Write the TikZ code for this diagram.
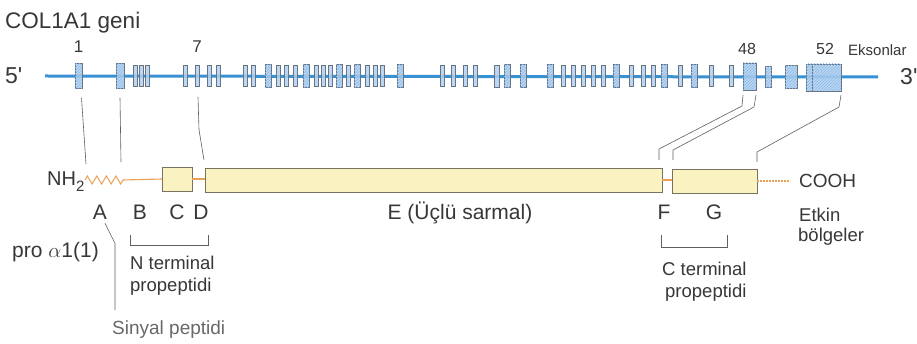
\documentclass[tikz,border=0pt]{standalone}
\usepackage{fontspec}
\setmainfont{Liberation Sans}
\usetikzlibrary{patterns,decorations.pathmorphing}
\definecolor{txt}{RGB}{55,55,55}
\definecolor{txtlight}{RGB}{105,105,105}
\definecolor{gline}{RGB}{55,145,210}
\definecolor{exfill}{RGB}{175,210,242}
\definecolor{exhatch}{RGB}{140,185,230}
\definecolor{exdraw}{RGB}{105,115,130}
\definecolor{boxfill}{RGB}{250,242,192}
\definecolor{boxdraw}{RGB}{120,115,95}
\definecolor{orng}{RGB}{232,160,85}
\definecolor{conn}{RGB}{95,95,95}
\newcommand{\fsz}[1]{\fontsize{#1}{#1}\selectfont}
\begin{document}
\begin{tikzpicture}[x=1pt,y=-1pt,
  lbl/.style={inner sep=0pt, anchor=base west, text=txt},
  clbl/.style={inner sep=0pt, anchor=base, text=txt},
  exon/.style={draw=exdraw, line width=0.6pt, fill=exfill, fill opacity=0.85, inner sep=0pt, outer sep=0pt, minimum height=21pt},
  hatch/.style={postaction={pattern=north east lines, pattern color=exhatch}},
  pbox/.style={draw=boxdraw, line width=0.8pt, fill=boxfill, inner sep=0pt, outer sep=0pt, anchor=north west},
  pline/.style={orng, line width=1.1pt},
  connline/.style={conn, line width=0.6pt},
  bracket/.style={conn, line width=0.6pt}]
\fill[white] (0,0) rectangle (917,344);
\useasboundingbox (0,0) rectangle (917,344);

% ---------- gene ----------
\node[lbl, font=\fsz{22.5}] (title) at (5,29) {COL1A1 geni};
\node[lbl, font=\fsz{23}] (five) at (5,84) {5\textquotesingle};
\node[lbl, font=\fsz{23}] (three) at (900,85) {3\textquotesingle};
\coordinate (gstart) at (45,76);
\coordinate (gend) at (878,77);
\draw[gline, line width=3pt] (gstart) -- (gend);

\foreach \x/\w/\h [count=\i] in {78.5/7/25, 120/8/25, 135/4/21, 141.5/4/21, 147.5/4/21,
  185/4/21, 197/4/21, 209/4/21, 218/4/21,
  245/4/21, 253/4/21, 268/6/23, 278/4/21, 286/4/21, 295/4/21, 306/6/23, 316/4/21,
  323/4/21, 330/4/21, 339/6/23, 348/4/21, 357/6/23, 367/4/21, 375/4/21, 382/4/21, 400/6/23,
  442/4/21, 453/4/21, 465/4/21, 475/4/21, 497/5/22, 507/6/23, 523/6/23, 550/6/23, 563/4/21, 573/4/21,
  583/4/21, 593/4/21, 603/4/21, 616/6/23, 631/4/21, 643/4/21, 653/4/21, 664/6/23, 680/4/21,
  694/6/23, 711/4/21, 731/4/21}
{
  \node[exon, minimum width=\w pt, minimum height=\h pt] (g\i) at (\x,76.3) {};
}
\foreach \n in {1,2,12,16,20,22,26,32,33,34,40,44,46}{
  \path[pattern=north east lines, pattern color=exhatch] (g\n.south west) rectangle (g\n.north east);
}
\node[exon, hatch, minimum width=13pt, minimum height=27pt] (ex48) at (749.5,76.5) {};
\node[exon, hatch, minimum width=6pt, minimum height=21pt] (ex49) at (768.5,77) {};
\node[exon, hatch, minimum width=12pt, minimum height=23pt] (ex50) at (791,77) {};
\node[exon, hatch, minimum width=6pt, minimum height=27pt] (ex51) at (809,77.5) {};
\node[exon, hatch, minimum width=29pt, minimum height=27pt] (ex52) at (826.5,77.5) {};

\node[clbl, font=\fsz{17}] (n1) at (78.5,53) {1};
\node[clbl, font=\fsz{17}] (n7) at (197,53) {7};
\node[clbl, font=\fsz{16}] (n48) at (747,55) {48};
\node[clbl, font=\fsz{16}] (n52) at (825,55) {52};
\node[lbl, font=\fsz{15}] (eks) at (848,56) {Eksonlar};

% ---------- protein ----------
\node[lbl, font=\fsz{20}] (nh2) at (47,186) {NH\raisebox{-6pt}{\fsz{15}2}};
\coordinate (z0) at (85,180);
\coordinate (z1) at (123,180);
\draw[pline, line width=1pt, decorate, decoration={zigzag, segment length=9.5pt, amplitude=4pt}] (z0) -- (z1);
\node[pbox, minimum width=30pt, minimum height=24pt] (pC) at (162,167) {};
\node[pbox, minimum width=457pt, minimum height=24pt] (pE) at (205,168) {};
\node[pbox, minimum width=85pt, minimum height=24pt] (pFG) at (672,169) {};
\coordinate (cend) at (790,181);
\draw[pline] (z1) -- (pC.west);
\draw[pline] (pC.east) -- (pE.west |- pC.east);
\draw[pline] (pE.east) -- (pFG.west |- pE.east);
\draw[pline, dash pattern=on 2pt off 1pt] (pFG.east) -- (cend);
\node[lbl, font=\fsz{19}] (cooh) at (799,188) {COOH};

% letters
\node[clbl, font=\fsz{21}] (A) at (100,220) {A};
\node[clbl, font=\fsz{21}] (B) at (140,220) {B};
\node[clbl, font=\fsz{21}] (C) at (177,220) {C};
\node[clbl, font=\fsz{21}] (D) at (201,220) {D};
\node[clbl, font=\fsz{21}] (E) at (460,220) {E (Üçlü sarmal)};
\node[clbl, font=\fsz{21}] (F) at (664,220) {F};
\node[clbl, font=\fsz{21}] (G) at (714,220) {G};

\node[lbl, font=\fsz{18.5}] (etkin) at (799,222) {Etkin};
\node[lbl, font=\fsz{18.5}] (bolg) at (798,242) {bölgeler};

\node[lbl, font=\fsz{21}] (pro) at (12,258) {pro $\alpha$1(1)};
\node[lbl, font=\fsz{18.5}] (nterm) at (130,270) {N terminal};
\node[lbl, font=\fsz{18.5}] (nprop) at (130,291) {propeptidi};
\node[lbl, font=\fsz{19}, text=txtlight] (sig) at (112,334) {Sinyal peptidi};
\node[lbl, font=\fsz{18.5}] (cterm) at (662,276) {C terminal};
\node[lbl, font=\fsz{18.5}] (cprop) at (665,298) {propeptidi};

% brackets
\draw[bracket] (130,235) -- (130,245) -- (208,245) -- (208,235);
\draw[bracket] (661,235) -- (661,247) -- (727,247) -- (727,235);
\draw[bracket] ([xshift=5pt,yshift=-3pt]A.south) -- ++(10,20) -- ([xshift=3pt,yshift=10pt]sig.north west);

% connectors gene -> protein
\draw[connline] ([xshift=3pt,yshift=-9pt]g1.south) -- ([xshift=1pt,yshift=16pt]z0);
\draw[connline] ([yshift=-9pt]g2.south) -- ([xshift=-2pt,yshift=18pt]z1);
\draw[connline] ([xshift=1pt,yshift=-10pt]g7.south) -- ++(1,33) -- ([xshift=-1pt,yshift=8pt]pE.north west);
\draw[connline] ([yshift=-5pt]ex48.south west) -- ++(-1,11) -- ([xshift=-13pt,yshift=20pt]pFG.north west) -- ([xshift=-13pt,yshift=9pt]pFG.north west);
\draw[connline] ([yshift=-5pt]ex48.south east) -- ++(-2,12) -- ([xshift=1pt,yshift=19pt]pFG.north west) -- ([xshift=1pt,yshift=9pt]pFG.north west);
\draw[connline] ([yshift=-4pt]ex52.south east) -- ++(-2,12) -- ([yshift=17pt]pFG.north east) -- ([yshift=7pt]pFG.north east);
\end{tikzpicture}
\end{document}
